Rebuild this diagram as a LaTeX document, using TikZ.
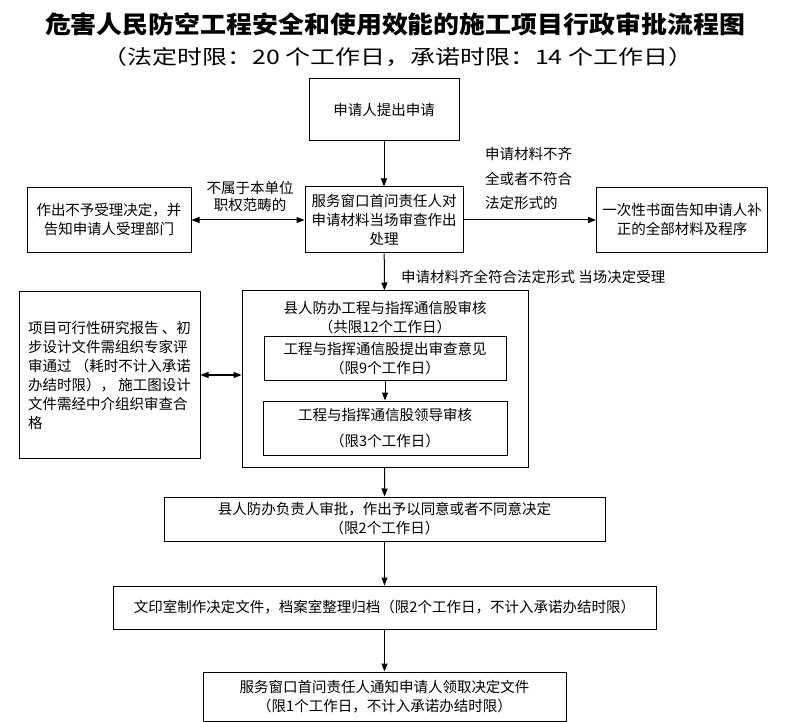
\documentclass[tikz,border=0pt]{standalone}
\usepackage{fontspec}
\usepackage{graphicx}
\setmainfont{Noto Sans CJK SC}
\usetikzlibrary{arrows.meta}
\begin{document}
\begin{tikzpicture}[x=1pt,y=-1pt,
  box/.style={draw, line width=1pt, inner sep=1pt, align=center, font=\fontsize{14.5}{19}\selectfont},
  lbl/.style={inner sep=0pt, font=\fontsize{14.5}{19}\selectfont},
  arr/.style={line width=1pt, -{Triangle[length=8pt,width=6pt]}},
  darr/.style={line width=1pt, {Triangle[length=8pt,width=6pt]}-{Triangle[length=8pt,width=6pt]}}]
\useasboundingbox (0,0) rectangle (796,722);
% titles
\node[inner sep=0pt] (title) at (395,24) {\fontsize{24}{24}\selectfont\bfseries\resizebox{700pt}{\height}{危害人民防空工程安全和使用效能的施工项目行政审批流程图}};
\node[inner sep=0pt] (subtitle) at (398,57) {\fontsize{20}{20}\selectfont\resizebox{590pt}{\height}{（法定时限：20 个工作日，承诺时限：14 个工作日）}};
% boxes
\node[box, minimum width=150pt, minimum height=62pt] (apply) at (384,110) {申请人提出申请};
\node[box, minimum width=158pt, minimum height=66pt] (window) at (384,220) {服务窗口首问责任人对\\申请材料当场审查作出\\处理};
\node[box, minimum width=164pt, minimum height=65pt] (reject) at (109,220) {作出不予受理决定，并\\告知申请人受理部门};
\node[box, minimum width=171pt, minimum height=65pt] (supp) at (682,220) {一次性书面告知申请人补\\正的全部材料及程序};
\node[box, minimum width=286pt, minimum height=176pt] (big) at (385,379) {};
\node[lbl, align=center] (bigtitle) at (385,317.5) {县人防办工程与指挥通信股审核\\（共限12个工作日）};
\node[box, minimum width=242pt, minimum height=43pt] (inner1) at (385,358.5) {工程与指挥通信股提出审查意见\\（限9个工作日）};
\node[box, minimum width=244pt, minimum height=54pt] (inner2) at (385,428) {工程与指挥通信股领导审核\\[7pt]（限3个工作日）};
\node[box, minimum width=181pt, minimum height=167pt, align=left] (expert) at (109.5,375) {项目可行性研究报告 、初\\步设计文件需组织专家评\\审通过 （耗时不计入承诺\\办结时限）， 施工图设计\\文件需经中介组织审查合\\格};
\node[box, minimum width=441pt, minimum height=44pt] (approve) at (384.5,519) {县人防办负责人审批，作出予以同意或者不同意决定\\（限2个工作日）};
\node[box, minimum width=543pt, minimum height=43pt] (archive) at (384.5,607.5) {文印室制作决定文件，档案室整理归档（限2个工作日，不计入承诺办结时限）};
\node[box, minimum width=363pt, minimum height=49pt] (notify) at (384.5,696.5) {服务窗口首问责任人通知申请人领取决定文件\\（限1个工作日，不计入承诺办结时限）};
% labels
\node[lbl, align=center, font=\fontsize{14.5}{17}\selectfont] (lblreject) at (250,196) {不属于本单位\\职权范畴的};
\node[lbl, align=left, anchor=west, font=\fontsize{14.5}{24.5}\selectfont] (lblsupp) at (485,179) {申请材料不齐\\全或者不符合\\法定形式的};
\node[lbl, anchor=west] (lblaccept) at (401,277) {申请材料齐全符合法定形式 当场决定受理};
% connectors
\draw[arr] (apply) -- (window);
\draw[darr] (reject) -- (window);
\draw[arr] (window) -- (supp);
\draw[arr] (window) -- (big);
\draw[arr] (inner1) -- (inner2);
\draw[darr] (expert.east) -- (expert.east -| big.west);
\draw[arr] (big) -- (approve);
\draw[arr] (approve) -- (archive);
\draw[arr] (archive) -- (notify);
\end{tikzpicture}
\end{document}
